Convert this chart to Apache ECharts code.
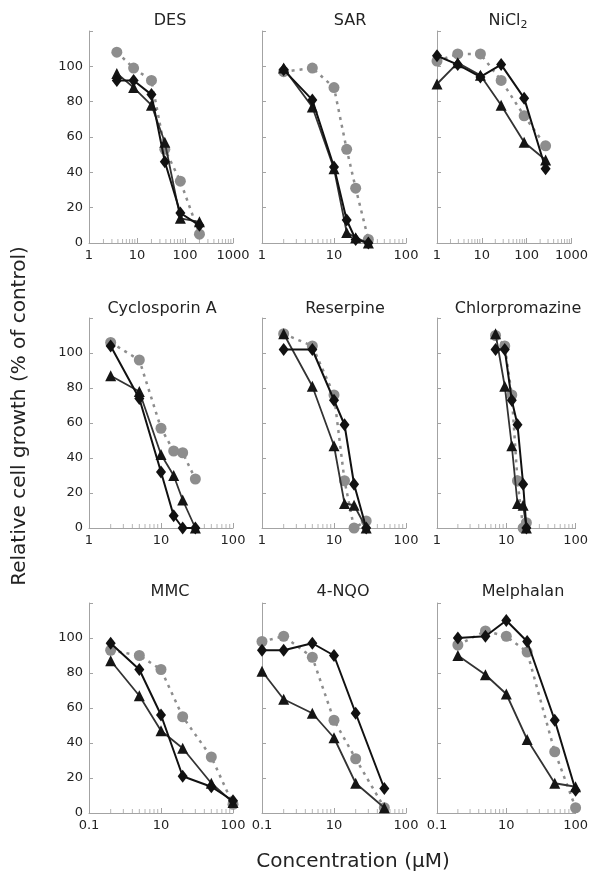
<!DOCTYPE html>
<html>
<head>
<meta charset="utf-8">
<script src="https://cdn.jsdelivr.net/npm/echarts@6/dist/echarts.min.js"></script>
<style>
    html, body { margin: 0; padding: 0; background: #fff; }
    #chart { width: 591px; height: 882px; }
</style>
</head>
<body>
<div id="chart"></div>
<script>
// panel names (row by row)
var panelNames = ['DES', 'SAR', 'NiCl2', 'Cyclosporin A', 'Reserpine', 'Chlorpromazine', 'MMC', '4-NQO', 'Melphalan'];

// concentrations (as placed on each log axis) and % growth for the three markers
var desConc = [3.8, 8.5, 20, 38, 80, 200];
var desCircle = [108, 99, 92, 53, 35, 5];
var desDiamond = [92, 92, 84, 46, 17, 10];
var desTriangle = [96, 88, 78, 57, 14, 12];

var sarConc = [2, 5, 10, 15, 20, 30];
var sarCircle = [97, 99, 88, 53, 31, 2];
var sarDiamond = [98, 81, 43, 13, 2, 0];
var sarTriangle = [99, 77, 42, 6, 3, 0];

var niConc = [1, 2.9, 9.3, 27, 88, 265];
var niCircle = [103, 107, 107, 92, 72, 55];
var niDiamond = [106, 101, 94, 101, 82, 42];
var niTriangle = [90, 102, 95, 78, 57, 47];

var cycConc = [2, 5, 10, 15, 20, 30];
var cycCircle = [106, 96, 57, 44, 43, 28];
var cycDiamond = [104, 74, 32, 7, 0, 0];
var cycTriangle = [87, 78, 42, 30, 16, 0];

var resConc = [2, 5, 10, 14, 19, 28];
var resCircle = [111, 104, 76, 27, 0, 4];
var resDiamond = [102, 102, 73, 59, 25, 0];
var resTriangle = [111, 81, 47, 14, 13, 0];

var chlConc = [7, 9.5, 12, 14.5, 17.5, 19.5];
var chlCircle = [110, 104, 76, 27, 0, 3];
var chlDiamond = [102, 102, 73, 59, 25, 0];
var chlTriangle = [111, 81, 47, 14, 13, 0];

var mmcConc = [2, 5, 10, 20, 50, 100];
var mmcCircle = [93, 90, 82, 55, 32, 5];
var mmcDiamond = [97, 82, 56, 21, 15, 7];
var mmcTriangle = [87, 67, 47, 37, 17, 6];

var nqoConc = [1, 2, 5, 10, 20, 50];
var nqoCircle = [98, 101, 89, 53, 31, 3];
var nqoDiamond = [93, 93, 97, 90, 57, 14];
var nqoTriangle = [81, 65, 57, 43, 17, 3];

var melConc = [2, 5, 10, 20, 50, 100];
var melCircle = [96, 104, 101, 92, 35, 3];
var melDiamond = [100, 101, 110, 98, 53, 13];
var melTriangle = [90, 79, 68, 42, 17, 15];

// axis ranges and tick labels
var xMaxByPanel = [1000, 100, 1000, 100, 100, 100, 100, 100, 100];
var yTickValues = [0, 20, 40, 60, 80, 100];
var bottomRowTickLabels = { 1: '0.1', 10: '10', 100: '100' };
var minorTicks100 = [2, 3, 4, 5, 6, 7, 8, 9, 20, 30, 40, 50, 60, 70, 80, 90];
var minorTicks1000 = [2, 3, 4, 5, 6, 7, 8, 9, 20, 30, 40, 50, 60, 70, 80, 90, 200, 300, 400, 500, 600, 700, 800, 900];

var panelConc = [desConc, sarConc, niConc, cycConc, resConc, chlConc, mmcConc, nqoConc, melConc];
var panelCircle = [desCircle, sarCircle, niCircle, cycCircle, resCircle, chlCircle, mmcCircle, nqoCircle, melCircle];
var panelDiamond = [desDiamond, sarDiamond, niDiamond, cycDiamond, resDiamond, chlDiamond, mmcDiamond, nqoDiamond, melDiamond];
var panelTriangle = [desTriangle, sarTriangle, niTriangle, cycTriangle, resTriangle, chlTriangle, mmcTriangle, nqoTriangle, melTriangle];

// layout
var FONT = 'DejaVu Sans, sans-serif';
var AXIS_COLOR = '#a3a3a3';
var TEXT_COLOR = '#232323';
var colLeft = [89, 262, 437];
var rowTop = [31, 318, 603];
var rowHeight = [212, 210, 210];
var gridWidth = 144;
var titleX = [170, 350, 508, 162, 345, 518, 170, 343, 523];
var titleY = [21, 309, 592];

function pairs(xs, ys) {
    return xs.map(function (x, i) { return [x, ys[i]]; });
}

var grids = [], xAxes = [], yAxes = [], series = [], graphics = [];

panelNames.forEach(function (name, i) {
    var row = Math.floor(i / 3), col = i % 3;
    grids.push({ left: colLeft[col], top: rowTop[row], width: gridWidth, height: rowHeight[row] });

    xAxes.push({
        gridIndex: i,
        type: 'log',
        logBase: 10,
        min: 1,
        max: xMaxByPanel[i],
        splitLine: { show: false },
        axisLine: { lineStyle: { color: AXIS_COLOR, width: 1 } },
        axisTick: { inside: true, length: 5, lineStyle: { color: AXIS_COLOR } },
        axisLabel: {
            color: TEXT_COLOR, fontSize: 13, fontFamily: FONT, margin: 6,
            showMinLabel: true, showMaxLabel: true,
            formatter: function (v) {
                var r = Math.round(v);
                if (row === 2) return bottomRowTickLabels[r] || '';
                return String(r);
            }
        }
    });

    yAxes.push({
        gridIndex: i,
        type: 'value',
        min: 0,
        max: 120,
        interval: 20,
        splitLine: { show: false },
        axisLine: { show: true, lineStyle: { color: AXIS_COLOR, width: 1 } },
        axisTick: { show: true, inside: true, length: 4, lineStyle: { color: AXIS_COLOR } },
        axisLabel: {
            show: col === 0,
            color: TEXT_COLOR, fontSize: 13, fontFamily: FONT, margin: 6,
            formatter: function (v) { return yTickValues.indexOf(v) >= 0 ? String(v) : ''; }
        }
    });

    // minor ticks of the log axis (2..9 in each decade)
    var minor = xMaxByPanel[i] === 1000 ? minorTicks1000 : minorTicks100;
    series.push({
        type: 'scatter', xAxisIndex: i, yAxisIndex: i, silent: true, clip: false, z: 1,
        symbol: 'rect', symbolSize: [1, 4], symbolOffset: [0, -2],
        itemStyle: { color: AXIS_COLOR },
        data: minor.map(function (v) { return [v, 0]; })
    });

    var conc = panelConc[i];
    series.push({
        name: 'circle', type: 'line', xAxisIndex: i, yAxisIndex: i, clip: false, z: 2,
        symbol: 'circle', symbolSize: 11,
        itemStyle: { color: '#8d8d8d' },
        lineStyle: { color: '#8d8d8d', width: 2.5, type: [3, 5] },
        data: pairs(conc, panelCircle[i])
    });
    series.push({
        name: 'triangle', type: 'line', xAxisIndex: i, yAxisIndex: i, clip: false, z: 3,
        symbol: 'triangle', symbolSize: 11,
        itemStyle: { color: '#151515' },
        lineStyle: { color: '#333', width: 1.8 },
        data: pairs(conc, panelTriangle[i])
    });
    series.push({
        name: 'diamond', type: 'line', xAxisIndex: i, yAxisIndex: i, clip: false, z: 4,
        symbol: 'diamond', symbolSize: [10, 13],
        itemStyle: { color: '#111' },
        lineStyle: { color: '#111', width: 2 },
        data: pairs(conc, panelDiamond[i])
    });

    // panel title
    var text = name === 'NiCl2' ? 'NiCl{sub|2}' : name;
    graphics.push({
        type: 'text',
        x: titleX[i],
        y: titleY[row],
        style: {
            text: text,
            fill: TEXT_COLOR,
            fontSize: 16,
            fontFamily: FONT,
            lineHeight: 20,
            align: 'center',
            verticalAlign: 'middle',
            rich: {
                sub: { fontSize: 11, lineHeight: 11, fontFamily: FONT, fill: TEXT_COLOR, verticalAlign: 'bottom' }
            }
        }
    });
});

graphics.push({
    type: 'text',
    x: 20,
    y: 416,
    rotation: Math.PI / 2,
    style: {
        text: 'Relative cell growth (% of control)',
        fill: TEXT_COLOR, fontSize: 20, fontFamily: FONT,
        align: 'center', verticalAlign: 'middle'
    }
});
graphics.push({
    type: 'text',
    x: 353,
    y: 862,
    style: {
        text: 'Concentration (\u03bcM)',
        fill: TEXT_COLOR, fontSize: 20, fontFamily: FONT,
        align: 'center', verticalAlign: 'middle'
    }
});

var chart = echarts.init(document.getElementById('chart'));
chart.setOption({
    animation: false,
    backgroundColor: '#fff',
    grid: grids,
    xAxis: xAxes,
    yAxis: yAxes,
    series: series,
    graphic: graphics
});
</script>
</body>
</html>
